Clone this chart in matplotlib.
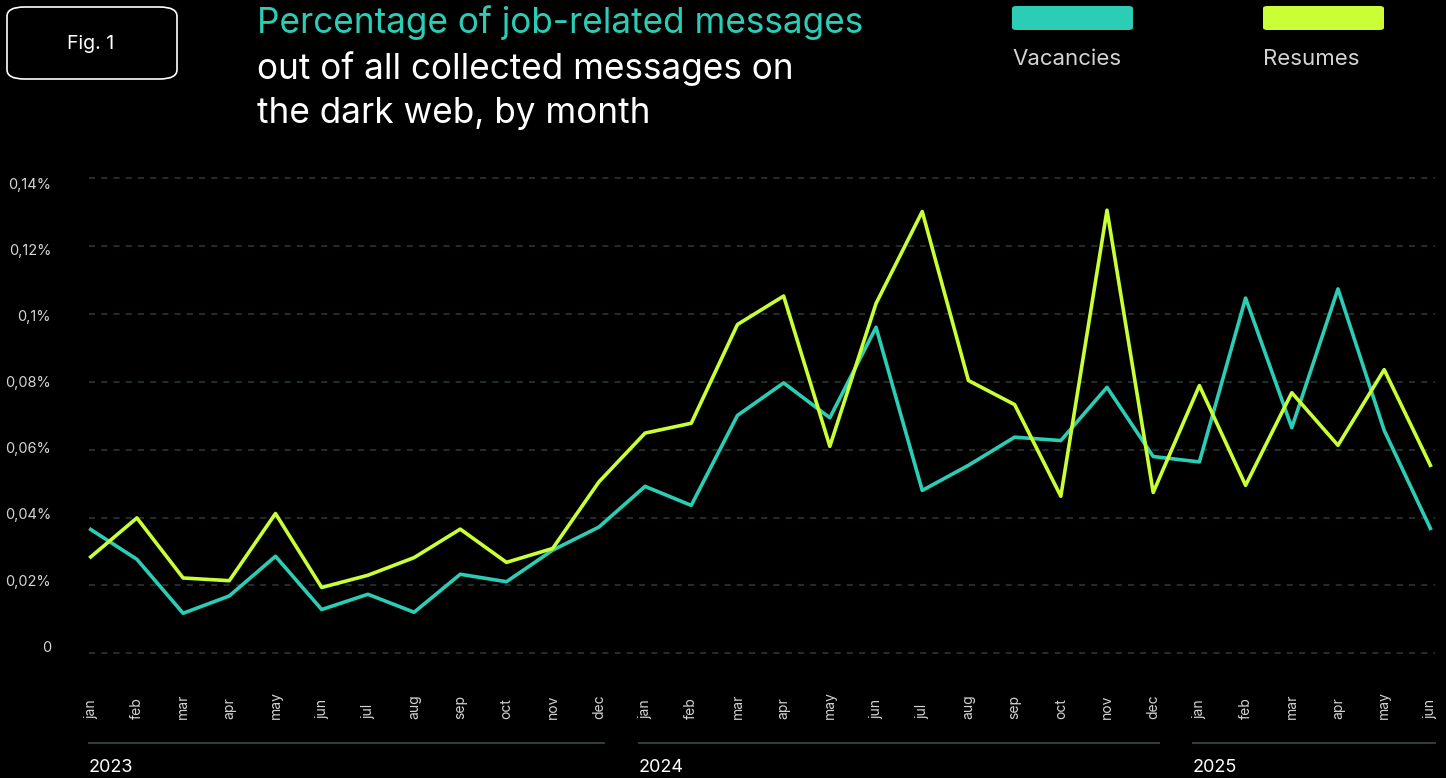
import matplotlib
matplotlib.use("Agg")
import matplotlib.pyplot as plt
from matplotlib.patches import FancyBboxPatch
import matplotlib.transforms as mtransforms

plt.rcParams['font.family'] = ['Inter', 'DejaVu Sans']

# data (share of job-related messages, %)
months = ["jan", "feb", "mar", "apr", "may", "jun", "jul", "aug", "sep", "oct", "nov", "dec",
          "jan", "feb", "mar", "apr", "may", "jun", "jul", "aug", "sep", "oct", "nov", "dec",
          "jan", "feb", "mar", "apr", "may", "jun"]
years = ["2023", "2024", "2025"]
year_start = [0, 12, 24]
year_end = [11, 23, 29]
vacancies = [0.0365, 0.0277, 0.0118, 0.0169, 0.0286, 0.0129, 0.0174, 0.0121, 0.0233, 0.0211,
             0.0304, 0.0372, 0.0492, 0.0436, 0.0701, 0.0797, 0.0694, 0.0961, 0.0480, 0.0554,
             0.0637, 0.0627, 0.0784, 0.0580, 0.0564, 0.1047, 0.0665, 0.1074, 0.0657, 0.0368]
resumes = [0.0284, 0.0399, 0.0222, 0.0214, 0.0412, 0.0194, 0.0230, 0.0282, 0.0366, 0.0268,
           0.0309, 0.0505, 0.0649, 0.0678, 0.0969, 0.1053, 0.0610, 0.1031, 0.1302, 0.0804,
           0.0733, 0.0463, 0.1306, 0.0474, 0.0789, 0.0495, 0.0768, 0.0613, 0.0836, 0.0554]
yticks = [0, 0.02, 0.04, 0.06, 0.08, 0.10, 0.12, 0.14]
ytick_labels = ["0", "0,02%", "0,04%", "0,06%", "0,08%", "0,1%", "0,12%", "0,14%"]

TEAL = "#2bcdb5"
LIME = "#c8ff35"
GRID = "#2a3b39"
LABEL = "#d4d4d4"

W, H = 1446, 778
fig = plt.figure(figsize=(W / 100, H / 100), dpi=100, facecolor="black")

def fx(x):
    return x / W

def fy(y):
    return 1 - y / H

# axes: x 89..1435, y 178.3 (0.14) .. 653.3 (0)
ax = fig.add_axes([fx(89), fy(653.3), fx(1435) - fx(89), fy(178.3) - fy(653.3)])
ax.set_facecolor("black")
x = list(range(len(months)))
ax.set_xlim(-0.037, 29.1)
ax.set_ylim(0, 0.14)

for t in yticks:
    ax.axhline(t, color=GRID, lw=1.1, ls=(0, (4, 4)), zorder=1, clip_on=False)

ax.plot(x, vacancies, color=TEAL, lw=2.6, zorder=3, clip_on=False)
ax.plot(x, resumes, color=LIME, lw=2.6, zorder=4, clip_on=False)

for s in ax.spines.values():
    s.set_visible(False)
ax.set_xticks([])
ax.set_yticks([])

# y labels (slightly tighter spacing than the grid, as in the original)
for i, lab in enumerate(ytick_labels):
    fig.text(fx(51), fy(647.7 - i * 66.1), lab, ha="right", va="center",
             fontsize=10.5, color=LABEL)

# month labels
xtrans = mtransforms.blended_transform_factory(ax.transData, fig.transFigure)
for i, m in zip(x, months):
    ax.text(i, fy(719), m, transform=xtrans, rotation=90, ha="center", va="bottom",
            fontsize=10, color=LABEL)

# year lines and labels
for yr, s, e in zip(years, year_start, year_end):
    x0 = max(s - 0.14, -0.037)
    x1 = min(e + 0.12, 29.1)
    ax.plot([x0, x1], [fy(743), fy(743)], transform=xtrans, color="#2f4744", lw=1.3,
            clip_on=False)
    ax.text(x0, fy(767), yr, transform=xtrans, ha="left", va="center", fontsize=13,
            color="white")

# Fig. 1 box
box = FancyBboxPatch((fx(7), fy(79)), fx(177) - fx(7), fy(7) - fy(79),
                     boxstyle="round,pad=0,rounding_size=0.012", transform=fig.transFigure,
                     facecolor="none", edgecolor="white", lw=1.2)
fig.patches.append(box)
fig.text(fx(91), fy(44), "Fig. 1", ha="center", va="center", fontsize=14, color="white")

# title
fig.text(fx(257), fy(23), "Percentage of job-related messages", ha="left", va="center",
         fontsize=25.3, color=TEAL)
fig.text(fx(257), fy(69), "out of all collected messages on", ha="left", va="center",
         fontsize=25.3, color="white")
fig.text(fx(257), fy(113), "the dark web, by month", ha="left", va="center",
         fontsize=25.3, color="white")

# legend
for x0, col, lab in [(1012, TEAL, "Vacancies"), (1263, LIME, "Resumes")]:
    r = FancyBboxPatch((fx(x0), fy(30)), fx(121), 24 / H,
                       boxstyle="round,pad=0,rounding_size=0.003", transform=fig.transFigure,
                       facecolor=col, edgecolor="none")
    fig.patches.append(r)
    fig.text(fx(x0), fy(59), lab, ha="left", va="center", fontsize=16, color=LABEL)

fig.savefig("out.png", dpi=100, facecolor="black")
